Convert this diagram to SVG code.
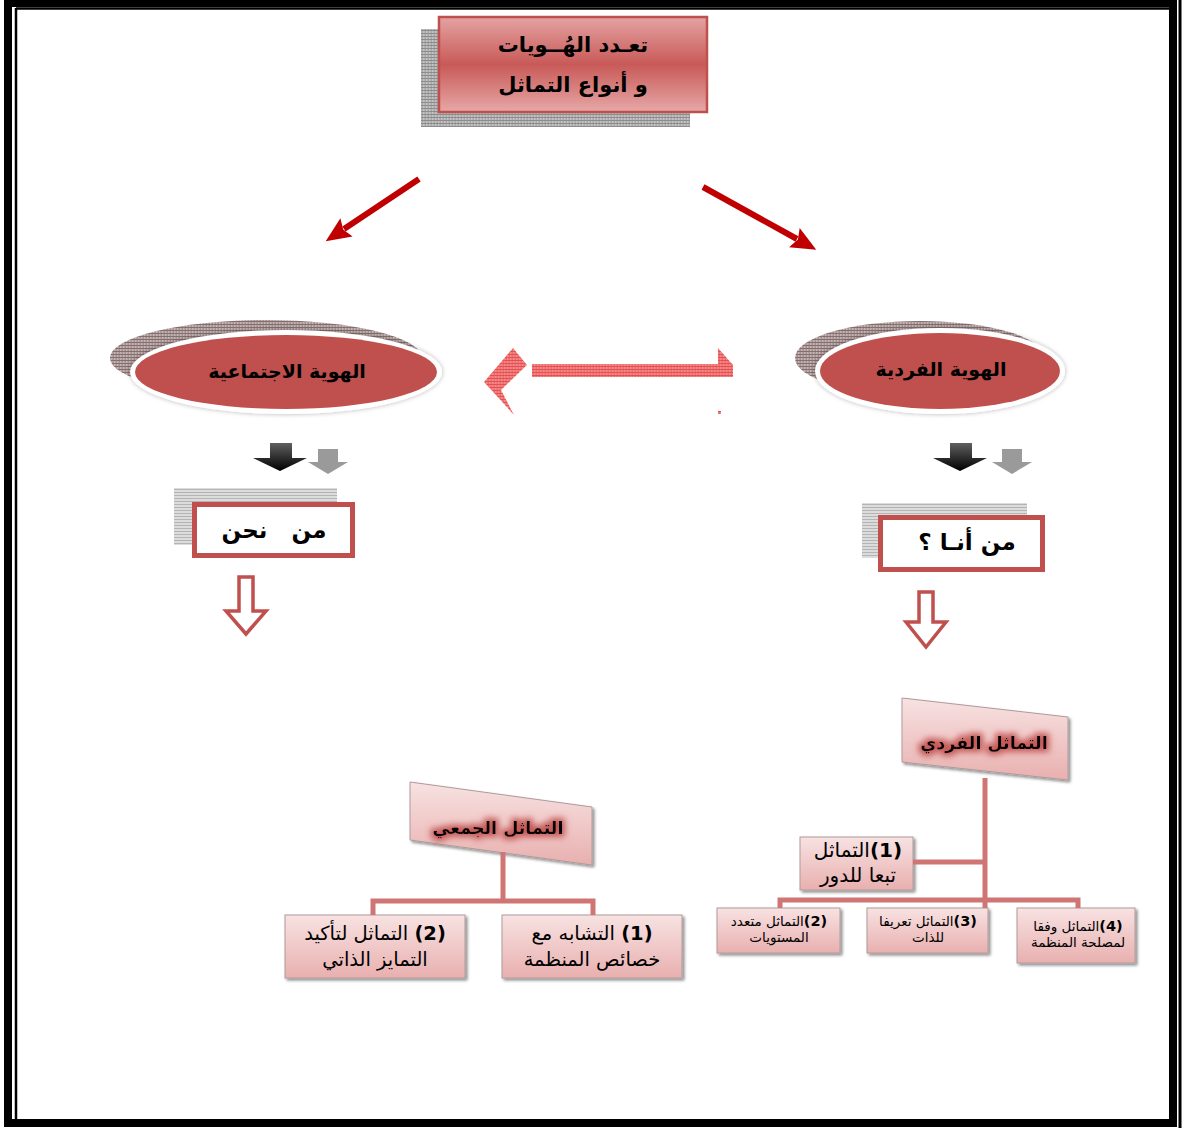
<svg xmlns="http://www.w3.org/2000/svg" width="1187" height="1131" viewBox="0 0 1187 1131">
<style>
  .ar { font-family: 'DejaVu Sans', 'Noto Sans', sans-serif; fill: #000; }
  .b { font-weight: bold; }
  .conn { stroke: #cf7674; stroke-width: 5; fill: none; }
  .tbox { fill: url(#pinkBox); stroke: #b09a9a; stroke-width: 1; filter: url(#shadow); }
  .hollow { fill: #fff; stroke: #c0504d; stroke-width: 3.5; stroke-linejoin: miter; }
  .qbox { fill: #fff; stroke: #c0504d; stroke-width: 5; }
</style>
<defs>
  <pattern id="hatchDark" width="3" height="3" patternUnits="userSpaceOnUse">
    <rect width="3" height="3" fill="#c4b4b4"/>
    <path d="M0,0.5 H3 M1.5,2 H3" stroke="#846e6e" stroke-width="1"/>
  </pattern>
  <pattern id="hatchGrey" width="3" height="3" patternUnits="userSpaceOnUse">
    <rect width="3" height="3" fill="#c4c4c4"/>
    <path d="M0,0.5 H3 M1.5,2 H3" stroke="#8c8c8c" stroke-width="1"/>
  </pattern>
  <pattern id="hatchLight" width="3" height="3" patternUnits="userSpaceOnUse">
    <rect width="3" height="3" fill="#dcdcdc"/>
    <path d="M0,0.5 H3" stroke="#b4b4b4" stroke-width="1"/>
  </pattern>
  <pattern id="hatchPink" width="3" height="3" patternUnits="userSpaceOnUse">
    <rect width="3" height="3" fill="#f28c8c"/>
    <path d="M0,0.5 H3 M1.5,2 H3" stroke="#e85050" stroke-width="1"/>
  </pattern>
  <linearGradient id="titleGrad" x1="0" y1="0" x2="0" y2="1">
    <stop offset="0" stop-color="#e4a3a2"/>
    <stop offset="0.5" stop-color="#c85a58"/>
    <stop offset="1" stop-color="#e6a8a7"/>
  </linearGradient>
  <linearGradient id="pinkBox" x1="0" y1="0" x2="0" y2="1">
    <stop offset="0" stop-color="#f8e2e2"/>
    <stop offset="1" stop-color="#e8b0af"/>
  </linearGradient>
  <linearGradient id="blackArrow" x1="0" y1="0" x2="0" y2="1">
    <stop offset="0" stop-color="#606060"/>
    <stop offset="1" stop-color="#000"/>
  </linearGradient>
  <filter id="shadow" x="-10%" y="-10%" width="130%" height="140%">
    <feGaussianBlur in="SourceAlpha" stdDeviation="1.5"/>
    <feOffset dx="2" dy="2" result="o"/>
    <feComponentTransfer><feFuncA type="linear" slope="0.45"/></feComponentTransfer>
    <feMerge><feMergeNode/><feMergeNode in="SourceGraphic"/></feMerge>
  </filter>
  <filter id="ringGlow" x="-10%" y="-20%" width="120%" height="140%">
    <feGaussianBlur in="SourceAlpha" stdDeviation="2.5"/>
    <feComponentTransfer><feFuncA type="linear" slope="0.3"/></feComponentTransfer>
    <feMerge><feMergeNode/><feMergeNode in="SourceGraphic"/></feMerge>
  </filter>
  <filter id="redGlow" x="-20%" y="-50%" width="140%" height="200%">
    <feMorphology in="SourceAlpha" operator="dilate" radius="2.5" result="d"/>
    <feGaussianBlur in="d" stdDeviation="3" result="b"/>
    <feFlood flood-color="#c0504d" flood-opacity="0.9"/>
    <feComposite in2="b" operator="in"/>
    <feMerge><feMergeNode/><feMergeNode in="SourceGraphic"/></feMerge>
  </filter>
  <marker id="redHead" markerUnits="userSpaceOnUse" markerWidth="26" markerHeight="24" viewBox="0 0 26 24" refX="3" refY="12" orient="auto">
    <path d="M0,1 L25,12 L0,23 L4,12 Z" fill="#c00000"/>
  </marker>
</defs>

<rect width="1187" height="1131" fill="#fff"/>

<!-- frame -->
<g id="frame" fill="none" stroke="#000">
  <rect x="8" y="3" width="1165" height="1120" stroke-width="8"/>
  <path d="M16,8 V1119 M16,8.5 H1169" stroke-width="2.5"/>
  <path d="M1180,0 V1128" stroke-width="3"/>
</g>

<!-- title -->
<g id="title">
  <rect x="421" y="29" width="269" height="98" fill="url(#hatchGrey)"/>
  <rect x="439" y="17" width="268" height="95" fill="url(#titleGrad)" stroke="#c0504d" stroke-width="2.5"/>
  <text class="ar b" x="573" y="52" font-size="21" text-anchor="middle" direction="rtl">تعـدد الهُــويات</text>
  <text class="ar b" x="573" y="92" font-size="21" text-anchor="middle" direction="rtl">و أنواع التماثل</text>
</g>

<!-- social identity ellipse -->
<g id="social">
  <ellipse cx="266" cy="358" rx="156" ry="38" fill="url(#hatchDark)"/>
  <ellipse cx="286" cy="372" rx="156" ry="42" fill="#fff" filter="url(#ringGlow)"/>
  <ellipse cx="286" cy="372" rx="151" ry="37" fill="#c0504d"/>
  <text class="ar b" x="287" y="378" font-size="19" text-anchor="middle" direction="rtl">الهوية الاجتماعية</text>
</g>

<!-- individual identity ellipse -->
<g id="individual">
  <ellipse cx="920" cy="358" rx="125" ry="37" fill="url(#hatchDark)"/>
  <ellipse cx="940" cy="371" rx="125" ry="43" fill="#fff" filter="url(#ringGlow)"/>
  <ellipse cx="940" cy="371" rx="120" ry="38" fill="#c0504d"/>
  <text class="ar b" x="941" y="376" font-size="19" text-anchor="middle" direction="rtl">الهوية الفردية</text>
</g>

<!-- who are we -->
<g id="weBox">
  <rect x="174" y="488" width="163" height="57" fill="url(#hatchLight)"/>
  <rect x="194.5" y="504.5" width="158" height="51" class="qbox"/>
  <text class="ar b" x="274" y="538" font-size="23" text-anchor="middle" direction="rtl" style="white-space:pre">من   نحن</text>
</g>

<!-- who am I -->
<g id="meBox">
  <rect x="862" y="503" width="165" height="55" fill="url(#hatchLight)"/>
  <rect x="880.5" y="517.5" width="162" height="52" class="qbox"/>
  <text class="ar b" x="967" y="550" font-size="23" text-anchor="middle" direction="rtl">من أنـا ؟</text>
</g>

<!-- collective conformity -->
<g id="collective">
  <path d="M410,782 L592,807 L592,865 L410,840 Z" class="tbox"/>
  <text class="ar b" x="498" y="834" font-size="17.5" text-anchor="middle" direction="rtl" filter="url(#redGlow)">التماثل  الجمعي</text>
</g>
<g id="col2">
  <rect x="285" y="915" width="180" height="63" class="tbox"/>
  <text class="ar" x="375" y="940" font-size="19.5" text-anchor="middle" direction="rtl"><tspan class="b">(2)</tspan> التماثل لتأكيد</text>
  <text class="ar" x="375" y="966" font-size="19.5" text-anchor="middle" direction="rtl">التمايز الذاتي</text>
</g>
<g id="col1">
  <rect x="502" y="915" width="180" height="63" class="tbox"/>
  <text class="ar" x="592" y="940" font-size="19.5" text-anchor="middle" direction="rtl"><tspan class="b">(1)</tspan> التشابه مع</text>
  <text class="ar" x="592" y="966" font-size="19.5" text-anchor="middle" direction="rtl">خصائص المنظمة</text>
</g>

<!-- individual conformity -->
<g id="indiv">
  <path d="M902,698 L1068,717 L1068,780 L902,762 Z" class="tbox"/>
  <text class="ar b" x="984" y="749" font-size="17.5" text-anchor="middle" direction="rtl" filter="url(#redGlow)">التماثل الفردي</text>
</g>
<g id="ind1">
  <rect x="800" y="837" width="113" height="53" class="tbox"/>
  <text class="ar" x="858" y="857" font-size="20" text-anchor="middle" direction="rtl"><tspan class="b">(1)</tspan>التماثل</text>
  <text class="ar" x="858" y="882" font-size="20" text-anchor="middle" direction="rtl">تبعا للدور</text>
</g>
<g id="ind2">
  <rect x="717" y="908" width="123" height="45" class="tbox"/>
  <text class="ar" x="779" y="926" font-size="13.5" text-anchor="middle" direction="rtl"><tspan class="b" font-size="14.5">(2)</tspan>التماثل متعدد</text>
  <text class="ar" x="779" y="942" font-size="13.5" text-anchor="middle" direction="rtl">المستويات</text>
</g>
<g id="ind3">
  <rect x="867" y="908" width="121" height="45" class="tbox"/>
  <text class="ar" x="928" y="926" font-size="13.5" text-anchor="middle" direction="rtl"><tspan class="b" font-size="14.5">(3)</tspan>التماثل تعريفا</text>
  <text class="ar" x="928" y="942" font-size="13.5" text-anchor="middle" direction="rtl">للذات</text>
</g>
<g id="ind4">
  <rect x="1017" y="908" width="118" height="55" class="tbox"/>
  <text class="ar" x="1078" y="931" font-size="13.5" text-anchor="middle" direction="rtl"><tspan class="b" font-size="14.5">(4)</tspan>التماثل وفقا</text>
  <text class="ar" x="1078" y="947" font-size="13.5" text-anchor="middle" direction="rtl">لمصلحة المنظمة</text>
</g>

<!-- connectors -->
<g id="connectors">
  <line x1="419" y1="179" x2="344" y2="229" stroke="#c00000" stroke-width="6" marker-end="url(#redHead)"/>
  <line x1="703" y1="187" x2="797" y2="239" stroke="#c00000" stroke-width="6" marker-end="url(#redHead)"/>
  <!-- double arrow between identities -->
  <g fill="url(#hatchPink)">
    <polygon points="484,382 513,348 527,365 501,390 514,415"/>
    <rect x="532" y="364" width="201" height="13"/>
    <polygon points="718,348 733,365 718,365"/>
    <rect x="718" y="411" width="3" height="3"/>
  </g>
  <!-- small block arrows -->
  <path d="M270,443 H292 V458 H307 L280,471 L253,458 H270 Z" fill="url(#blackArrow)"/>
  <path d="M318,449 H338 V462 H348 L328,474 L308,462 H318 Z" fill="#9a9a9a"/>
  <path d="M950,443 H972 V458 H987 L960,471 L933,458 H950 Z" fill="url(#blackArrow)"/>
  <path d="M1002,449 H1022 V462 H1032 L1012,474 L992,462 H1002 Z" fill="#9a9a9a"/>
  <!-- hollow arrows -->
  <path d="M239,577 H253 V611 H266 L246,634 L226,611 H239 Z" class="hollow"/>
  <path d="M919,592 H933 V622 H946 L926,647 L906,622 H919 Z" class="hollow"/>
  <!-- tree connectors -->
  <path d="M503,852 V901 M373,915 V901 H593 V915" class="conn"/>
  <path d="M985,778 V908 M913,862 H985 M780,908 V900 H1078 V908" class="conn"/>
</g>
</svg>
